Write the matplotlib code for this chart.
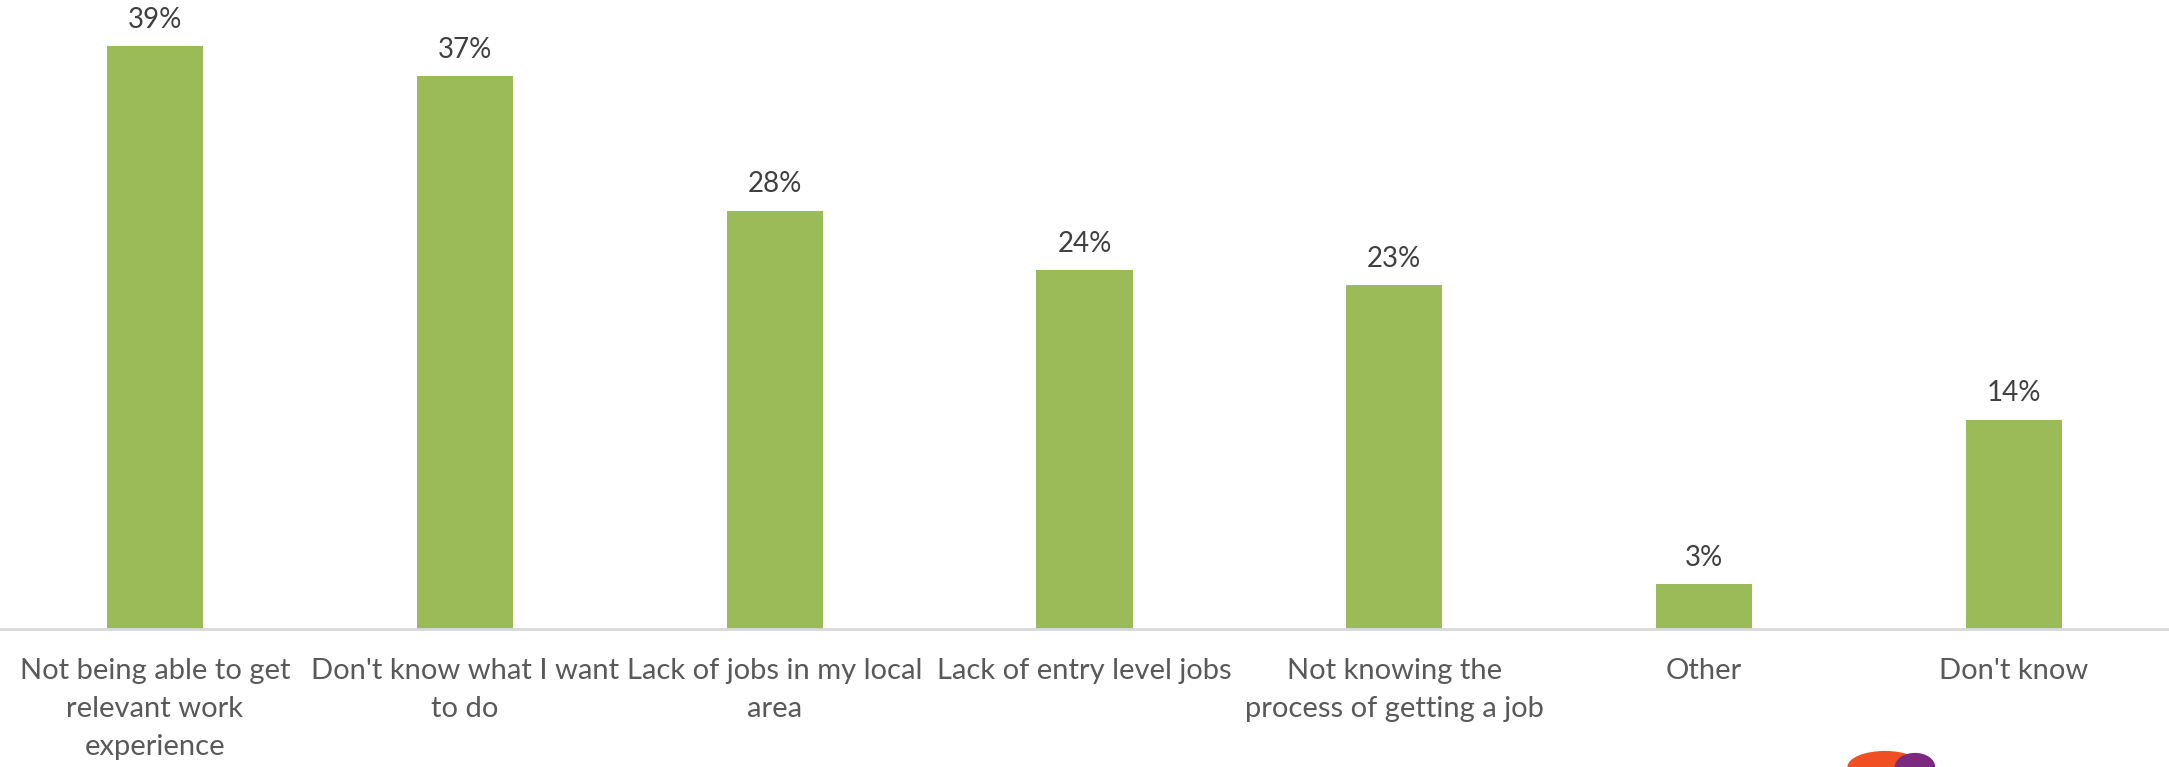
import matplotlib
matplotlib.use("Agg")
import matplotlib.pyplot as plt
from matplotlib.patches import Ellipse

categories = [
    "Not being able to get\nrelevant work\nexperience",
    "Don't know what I want\nto do",
    "Lack of jobs in my local\narea",
    "Lack of entry level jobs",
    "Not knowing the\nprocess of getting a job",
    "Other",
    "Don't know",
]
values = [39, 37, 28, 24, 23, 3, 14]

plt.rcParams["font.family"] = ["Lato", "DejaVu Sans"]

fig = plt.figure(figsize=(21.69, 7.67), dpi=100)
ax = fig.add_axes([0, 0.18, 1, 0.82])

x = range(len(categories))
bars = ax.bar(x, values, width=0.31, color="#9bbb59")

for b, v in zip(bars, values):
    ax.text(b.get_x() + b.get_width() / 2, v + 0.9, f"{v}%",
            ha="center", va="bottom", fontsize=20, color="#404040")

ax.set_xlim(-0.5, len(categories) - 0.5)
ax.set_ylim(0, 42.1)
ax.set_xticks(list(x))
ax.set_xticklabels(categories, fontsize=21, color="#595959", linespacing=1.58)
ax.tick_params(axis="x", length=0, pad=21)
ax.set_yticks([])
for s in ["top", "right", "left"]:
    ax.spines[s].set_visible(False)
ax.spines["bottom"].set_color("#d9d9d9")
ax.spines["bottom"].set_linewidth(2)

# partial logo at the bottom edge
fig.patches.append(Ellipse((1885 / 2169, 0.0), 0.034, 0.04, transform=fig.transFigure,
                           color="#f04e23", zorder=5))
fig.patches.append(Ellipse((1915 / 2169, 0.0), 0.018, 0.035, transform=fig.transFigure,
                           color="#7b2a7f", zorder=5))

fig.savefig("out.png", dpi=100)
